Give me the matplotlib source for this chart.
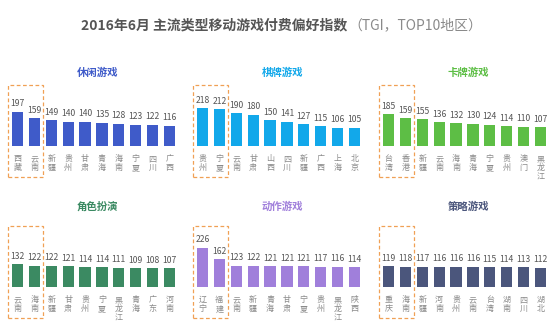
import matplotlib.pyplot as plt
from matplotlib.patches import Rectangle

plt.rcParams['font.family'] = ['Noto Sans CJK SC', 'DejaVu Sans']

# data
casual_regions = ['西藏', '云南', '新疆', '贵州', '甘肃', '青海', '海南', '宁夏', '四川', '广西']
casual_values = [197, 159, 149, 140, 140, 135, 128, 123, 122, 116]

chess_regions = ['贵州', '宁夏', '云南', '甘肃', '山西', '四川', '新疆', '广西', '上海', '北京']
chess_values = [218, 212, 190, 180, 150, 141, 127, 115, 106, 105]

card_regions = ['台湾', '香港', '新疆', '云南', '海南', '青海', '宁夏', '贵州', '澳门', '黑龙江']
card_values = [185, 159, 155, 136, 132, 130, 124, 114, 110, 107]

rpg_regions = ['云南', '海南', '新疆', '甘肃', '贵州', '宁夏', '黑龙江', '青海', '广东', '河南']
rpg_values = [132, 122, 122, 121, 114, 114, 111, 109, 108, 107]

action_regions = ['辽宁', '福建', '云南', '新疆', '青海', '甘肃', '宁夏', '贵州', '黑龙江', '陕西']
action_values = [226, 162, 123, 122, 121, 121, 121, 117, 116, 114]

strategy_regions = ['重庆', '海南', '新疆', '河南', '贵州', '云南', '台湾', '湖南', '四川', '湖北']
strategy_values = [119, 118, 117, 116, 116, 116, 115, 114, 113, 112]

titles = ['休闲游戏', '棋牌游戏', '卡牌游戏', '角色扮演', '动作游戏', '策略游戏']
colors = ['#3F5BC9', '#12A8EA', '#5DBE45', '#3B8A62', '#A07FDB', '#4B567C']
panels = [
    (casual_regions, casual_values),
    (chess_regions, chess_values),
    (card_regions, card_values),
    (rpg_regions, rpg_values),
    (action_regions, action_values),
    (strategy_regions, strategy_values),
]

W, H = 554, 330
fig = plt.figure(figsize=(W / 100, H / 100), dpi=100)

# layout in pixels
lefts = [9, 194, 380]
baselines = [146, 287]
step = 16.9           # px per bar slot
scale = 0.173         # px per index unit
ax_h = 50             # axes height in px
ymax = ax_h / scale

for k, (regions, values) in enumerate(panels):
    row, col = divmod(k, 3)
    left = lefts[col]
    base = baselines[row]
    ax = fig.add_axes([left / W, (H - base) / H, 10 * step / W, ax_h / H])
    x = range(len(values))
    ax.bar(x, values, width=0.66, color=colors[k])
    ax.set_xlim(-0.5, 9.5)
    ax.set_ylim(0, ymax)
    ax.axis('off')

    for i, v in enumerate(values):
        ax.annotate(str(v), (i, v), xytext=(0, 2.5), textcoords='offset points',
                    ha='center', va='bottom', fontsize=6.2, color='#555555',
                    annotation_clip=False)
        ax.text(i, -8 / scale, '\n'.join(regions[i]), ha='center', va='top',
                fontsize=5.8, color='#8a8a8a', linespacing=1.05, clip_on=False)

    # panel title
    ax.text(4.75, ymax + (base - ax_h - (73 if row == 0 else 207)) / scale, titles[k],
            ha='center', va='center', fontsize=7.5, fontweight='bold',
            color=colors[k], clip_on=False)

    # dashed highlight box around the top two regions
    ax.add_patch(Rectangle((-0.56, -31 / scale), 2.07, 92 / scale, fill=False,
                           edgecolor='#F0A055', linestyle=(0, (3, 2)),
                           linewidth=0.9, clip_on=False))

fig.text(347 / W, 1 - 25 / H, '2016年6月 主流类型移动游戏付费偏好指数', ha='right',
         va='center', fontsize=10, fontweight='bold', color='#555555')
fig.text(348 / W, 1 - 25 / H, '（TGI，TOP10地区）', ha='left', va='center',
         fontsize=10, color='#8a8a8a')

fig.savefig('out.png', dpi=100)
